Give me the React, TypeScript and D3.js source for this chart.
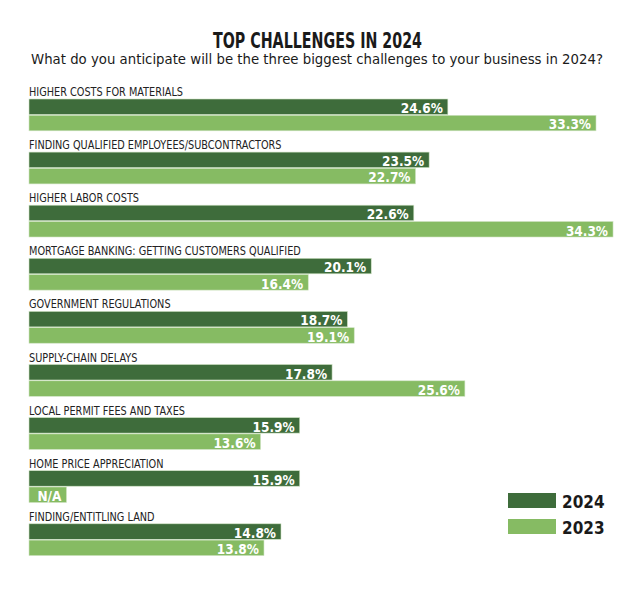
import React from "react";
import * as d3 from "d3";

const categories = [
  "HIGHER COSTS FOR MATERIALS",
  "FINDING QUALIFIED EMPLOYEES/SUBCONTRACTORS",
  "HIGHER LABOR COSTS",
  "MORTGAGE BANKING: GETTING CUSTOMERS QUALIFIED",
  "GOVERNMENT REGULATIONS",
  "SUPPLY-CHAIN DELAYS",
  "LOCAL PERMIT FEES AND TAXES",
  "HOME PRICE APPRECIATION",
  "FINDING/ENTITLING LAND",
];
const values2024: (number | null)[] = [24.6, 23.5, 22.6, 20.1, 18.7, 17.8, 15.9, 15.9, 14.8];
const values2023: (number | null)[] = [33.3, 22.7, 34.3, 16.4, 19.1, 25.6, 13.6, null, 13.8];
const seriesNames = ["2024", "2023"];
const naPlaceholder = 2.2;

const W = 640;
const H = 590;
const DARK = "#3e6c3b";
const LIGHT = "#86bb63";
const COND = "'DejaVu Sans Condensed', 'Liberation Sans Narrow', sans-serif";

export default function App() {
  const x = d3.scaleLinear().domain([0, 33.3]).range([29, 596]);
  const y = d3
    .scaleBand<number>()
    .domain(d3.range(categories.length))
    .range([99, 99 + 53.1 * categories.length])
    .paddingInner(0)
    .paddingOuter(0);
  const barH = 15.5;
  const series = [values2024, values2023];
  const colors = [DARK, LIGHT];

  return (
    <svg
      width={W}
      height={H}
      style={{ position: "absolute", left: 0, top: 0, background: "#fff" }}
    >
      <text
        x={317.5}
        y={48}
        textAnchor="middle"
        fontFamily={COND}
        fontWeight="bold"
        fontSize={21}
        fill="#1a1a1a"
        textLength={209}
        lengthAdjust="spacingAndGlyphs"
      >
        TOP CHALLENGES IN 2024
      </text>
      <text
        x={317}
        y={64}
        textAnchor="middle"
        fontFamily="'DejaVu Sans', sans-serif"
        fontSize={13.5}
        fill="#1a1a1a"
        textLength={572}
        lengthAdjust="spacingAndGlyphs"
      >
        What do you anticipate will be the three biggest challenges to your business in 2024?
      </text>
      {categories.map((c, i) => {
        const y0 = y(i)!;
        return (
          <g key={c}>
            <text
              transform={`translate(${x(0)},${y0 - 3}) scale(0.94,1)`}
              fontFamily={COND}
              fontSize={11.5}
              fill="#222"
            >
              {c}
            </text>
            {series.map((vals, s) => {
              const v = vals[i];
              const by = y0 + s * (barH + 0.8);
              const w = x(v ?? naPlaceholder) - x(0);
              return (
                <g key={s}>
                  <rect x={x(0)} y={by} width={w} height={barH} fill={colors[s]} stroke="#cfe3c4" strokeWidth={0.6} />
                  <text
                    x={x(0) + w - 5}
                    y={by + barH - 1.5}
                    textAnchor="end"
                    fontFamily={COND}
                    fontWeight="bold"
                    fontSize={13.5}
                    fill="#fff"
                  >
                    {v == null ? "N/A" : `${d3.format(".1f")(v)}%`}
                  </text>
                </g>
              );
            })}
          </g>
        );
      })}
      {seriesNames.map((n, s) => (
        <g key={n}>
          <rect x={508} y={493 + s * 26} width={48} height={15} fill={colors[s]} />
          <text
            transform={`translate(562,${508 + s * 26}) scale(0.92,1)`}
            fontFamily={COND}
            fontWeight="bold"
            fontSize={18.5}
            fill="#1a1a1a"
          >
            {n}
          </text>
        </g>
      ))}
    </svg>
  );
}
